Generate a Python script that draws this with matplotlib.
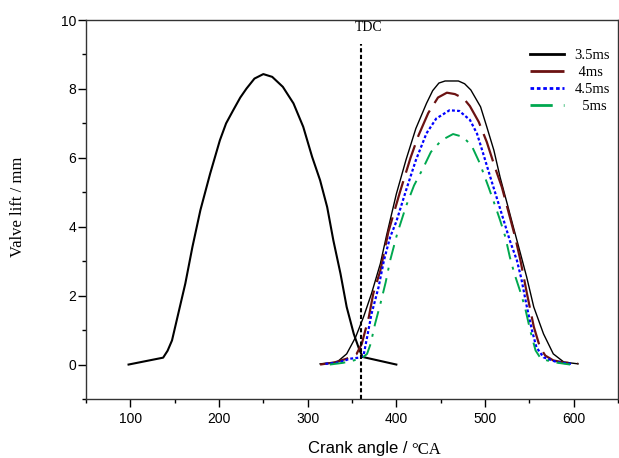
import numpy as np
import matplotlib
matplotlib.use("Agg")
import matplotlib.pyplot as plt
from matplotlib.ticker import MultipleLocator

# exhaust valve (left curve), crank angle / lift
exh_ang = [98, 137, 142, 147, 154, 162, 170, 179, 190, 201, 208, 216, 224, 231, 240, 250, 260, 272, 284,
           295, 305, 314, 322, 329, 337, 344, 352, 358, 362, 400]
exh_lift = [0, 0.2, 0.4, 0.7, 1.47, 2.35, 3.41, 4.48, 5.54, 6.51, 7.0, 7.38, 7.75, 8.01, 8.3, 8.43, 8.35, 8.06, 7.58,
            6.9, 6.03, 5.35, 4.57, 3.6, 2.64, 1.67, 0.89, 0.45, 0.22, 0]

# intake valve for different opening durations
ang_35 = [314, 333, 344, 354, 363, 372, 382, 389, 400, 411, 422, 434, 441, 448, 455, 470, 477, 484,
          495, 502, 510, 517, 525, 532, 540, 547, 555, 566, 577, 589, 605]
lift_35 = [0.02, 0.07, 0.31, 0.79, 1.38, 2.06, 2.93, 3.75, 4.95, 5.95, 6.85, 7.58, 7.95, 8.17, 8.23, 8.23, 8.15, 7.97,
           7.48, 6.9, 6.22, 5.44, 4.67, 3.99, 3.22, 2.54, 1.67, 0.89, 0.31, 0.07, 0.02]

ang_4 = [314, 330, 344, 355, 361, 369, 374, 382, 391, 404, 416, 425, 436, 447, 457, 466, 476, 483,
         493, 502, 511, 519, 527, 534, 540, 547, 555, 562, 568, 577, 589, 605]
lift_4 = [0.0, 0.06, 0.17, 0.3, 0.6, 1.38, 2.06, 2.73, 3.85, 5.0, 6.0, 6.65, 7.3, 7.75, 7.89, 7.85, 7.72, 7.5,
          7.04, 6.46, 5.74, 5.15, 4.38, 3.7, 3.02, 2.1, 1.1, 0.5, 0.26, 0.12, 0.06, 0.03]

ang_45 = [320, 335, 348, 358, 363, 367, 372, 380, 386, 393, 400, 411, 422, 434, 445, 460, 471, 483,
          491, 498, 506, 513, 521, 528, 536, 541, 547, 553, 558, 566, 581, 597]
lift_45 = [0.02, 0.06, 0.17, 0.2, 0.26, 0.79, 1.47, 2.25, 3.02, 3.7, 4.15, 5.06, 5.93, 6.71, 7.14, 7.38, 7.36, 7.1,
           6.7, 6.12, 5.44, 4.86, 4.19, 3.6, 3.02, 2.49, 1.7, 0.99, 0.5, 0.21, 0.07, 0.02]

ang_5 = [325, 340, 352, 362, 367, 371, 376, 382, 388, 393, 401, 411, 420, 430, 439, 451, 464, 475,
         485, 494, 504, 512, 517, 523, 528, 533, 540, 545, 551, 557, 563, 577, 596]
lift_5 = [0, 0.05, 0.12, 0.2, 0.31, 0.6, 1.18, 1.76, 2.39, 3.02, 3.8, 4.6, 5.2, 5.69, 6.17, 6.51, 6.69, 6.61,
          6.35, 5.85, 5.15, 4.57, 4.19, 3.7, 3.12, 2.65, 2.1, 1.67, 0.99, 0.41, 0.17, 0.07, 0]

tdc = 360
labels = ['3.5ms', ' 4ms', '4.5ms', '  5ms']

fig = plt.figure(figsize=(6.19, 4.58), dpi=100)
ax = fig.add_axes([86/619, 1-399/458, 532/619, 379/458])

ax.plot(exh_ang, exh_lift, color='black', lw=1.5)
ax.plot(ang_35, lift_35, color='black', lw=1.0, label=labels[0])
ax.plot(ang_4, lift_4, color='#6b1212', lw=1.6, linestyle=(0, (13, 4)), label=labels[1])
ax.plot(ang_45, lift_45, color='#0000ff', lw=1.6, linestyle=(0, (1.3, 1.0)), label=labels[2])
ax.plot(ang_5, lift_5, color='#00a84f', lw=1.4, linestyle=(0, (8, 4, 1.5, 4)), label=labels[3])
ax.plot([tdc, tdc], [-1, 9.3], color='black', lw=1.5, linestyle=(0, (2, 1.2)))
ax.text(369, 9.78, 'TDC', ha='center', va='center', fontsize=10, family='Liberation Serif')

ax.set_xlim(50, 650)
ax.set_ylim(-1, 10)
ax.xaxis.set_major_locator(MultipleLocator(100))
ax.xaxis.set_minor_locator(MultipleLocator(100, offset=50))
ax.yaxis.set_major_locator(MultipleLocator(2))
ax.yaxis.set_minor_locator(MultipleLocator(2, offset=1))
ax.tick_params(which='major', direction='out', length=5.5, width=1)
ax.tick_params(which='minor', direction='out', length=2.8, width=1)
ax.tick_params(axis='x', pad=4)
ax.tick_params(axis='y', pad=1.5)
for lab in ax.get_xticklabels() + ax.get_yticklabels():
    lab.set_family('Liberation Sans')
    lab.set_fontsize(10)
for s in ax.spines.values():
    s.set_linewidth(1)
    s.set_color('#333333')

leg = ax.legend(loc='upper left', bbox_to_anchor=(0.835, 0.925), frameon=False,
                borderpad=0, borderaxespad=0, handlelength=2.3, handletextpad=0.75,
                labelspacing=0.26, prop={'family': 'Liberation Serif', 'size': 10.5})
for ln in leg.get_lines():
    ln.set_linewidth(2.0)

fig.text(0.029, 1-207/458, 'Valve lift / mm', rotation=90, ha='center', va='center',
         fontsize=12, family='Liberation Serif')
fig.text(407/619, 4.5/458, 'Crank angle /', ha='right', va='baseline',
         fontsize=12, family='Liberation Sans')
fig.text(411/619, 4.5/458, '\u00b0CA', ha='left', va='baseline',
         fontsize=12, family='Liberation Serif')

fig.savefig('out.png', dpi=100)
